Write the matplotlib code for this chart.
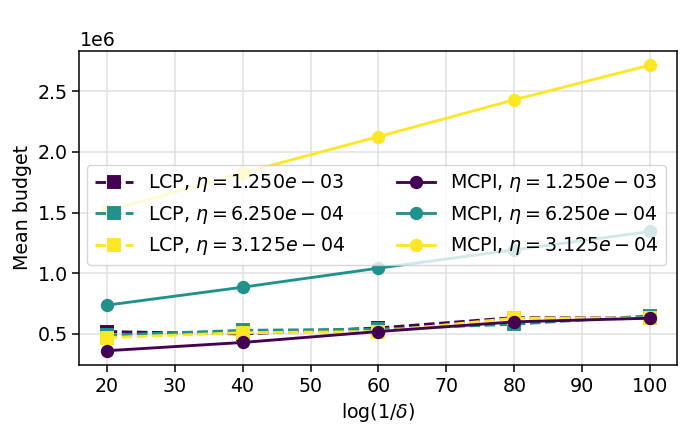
import numpy as np
import matplotlib
matplotlib.use("Agg")
import matplotlib.pyplot as plt

# log(1/delta) values
log_inv_delta = [20, 40, 60, 80, 100]
etas = [1.250e-03, 6.250e-04, 3.125e-04]
colors = ["#440154", "#21918c", "#fde725"]

# mean budget, LCP (one list per eta)
lcp_eta1 = [0.52e6, 0.50e6, 0.55e6, 0.635e6, 0.63e6]
lcp_eta2 = [0.49e6, 0.53e6, 0.54e6, 0.58e6, 0.65e6]
lcp_eta3 = [0.47e6, 0.51e6, 0.52e6, 0.63e6, 0.63e6]

# mean budget, MCPI
mcpi_eta1 = [0.362e6, 0.43e6, 0.52e6, 0.60e6, 0.63e6]
mcpi_eta2 = [0.737e6, 0.885e6, 1.042e6, 1.193e6, 1.344e6]
mcpi_eta3 = [1.51e6, 1.826e6, 2.125e6, 2.428e6, 2.715e6]

lcp = [lcp_eta1, lcp_eta2, lcp_eta3]
mcpi = [mcpi_eta1, mcpi_eta2, mcpi_eta3]

# figure looks like a default-styled plot scaled up ~1.37x
k = 1.37
fs = 10 * k
plt.rcParams.update({
    "font.size": fs,
    "lines.linewidth": 1.5 * k,
    "lines.markersize": 6 * k,
    "lines.markeredgewidth": 1.0 * k,
    "axes.linewidth": 0.8 * k,
    "xtick.major.size": 3.5 * k,
    "ytick.major.size": 3.5 * k,
    "xtick.major.width": 0.8 * k,
    "ytick.major.width": 0.8 * k,
})

fig, ax = plt.subplots(figsize=(6.85, 4.33), dpi=100)
fig.subplots_adjust(left=0.116, right=0.989, top=0.883, bottom=0.157)

for vals, c, eta in zip(lcp, colors, etas):
    ax.plot(log_inv_delta, vals, "--s", color=c, label=r"LCP, $\eta = %.3e$" % eta)
for vals, c, eta in zip(mcpi, colors, etas):
    ax.plot(log_inv_delta, vals, "-o", color=c, label=r"MCPI, $\eta = %.3e$" % eta)

ax.grid(True, color="#e0e0e0", lw=0.8 * k)
ax.set_xticks(np.arange(20, 101, 10))
ax.set_xlabel(r"log(1/$\delta$)")
ax.set_ylabel("Mean budget")

ax.legend(ncol=2, loc="center left", mode="expand",
          bbox_to_anchor=(-0.003, 0.315, 1.0, 0.325))

fig.savefig("out.png", dpi=100)
